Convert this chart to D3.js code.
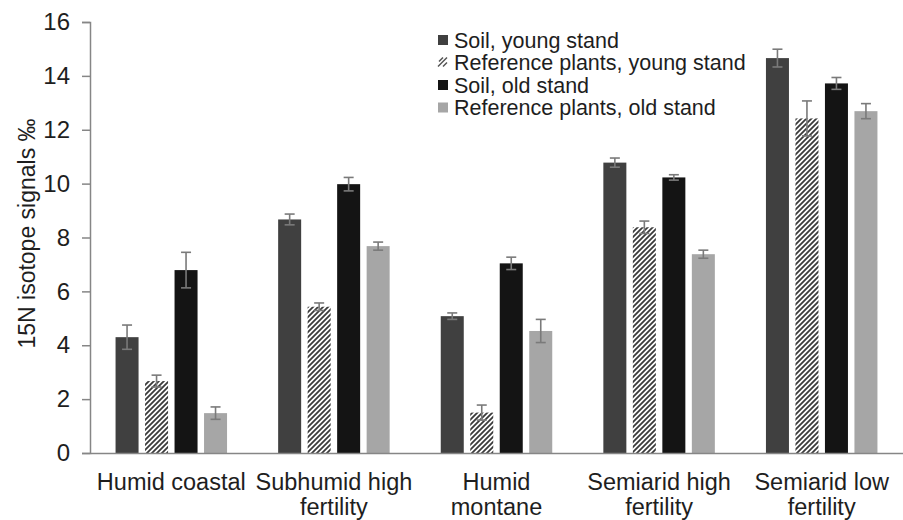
<!DOCTYPE html>
<html>
<head>
<meta charset="utf-8">
<script src="https://cdn.jsdelivr.net/npm/d3@7"></script>
<style>
  html, body { margin: 0; padding: 0; background: #fff; }
  svg { display: block; }
  text { font-family: "Liberation Sans", Arial, sans-serif; fill: #1e1e1e; }
</style>
</head>
<body>
<svg id="chart" width="903" height="520"></svg>
<script>
// ---- data ----
const categories = ["Humid coastal", "Subhumid high fertility", "Humid montane", "Semiarid high fertility", "Semiarid low fertility"];
const categoryLines = [["Humid coastal"], ["Subhumid high", "fertility"], ["Humid", "montane"], ["Semiarid high", "fertility"], ["Semiarid low", "fertility"]];
const seriesNames = ["Soil, young stand", "Reference plants, young stand", "Soil, old stand", "Reference plants, old stand"];
const soilYoung    = [4.30, 8.67, 5.08, 10.78, 14.66];
const soilYoungErr = [0.45, 0.20, 0.12, 0.17, 0.33];
const refYoung     = [2.67, 5.43, 1.50, 8.38, 12.42];
const refYoungErr  = [0.22, 0.14, 0.28, 0.23, 0.65];
const soilOld      = [6.79, 9.98, 7.04, 10.23, 13.72];
const soilOldErr   = [0.66, 0.25, 0.23, 0.10, 0.22];
const refOld       = [1.48, 7.68, 4.53, 7.38, 12.69];
const refOldErr    = [0.23, 0.15, 0.43, 0.15, 0.28];
const yTicks = [0, 2, 4, 6, 8, 10, 12, 14, 16];
const yTitle = "15N isotope signals \u2030";

const seriesValues = [soilYoung, refYoung, soilOld, refOld];
const seriesErrors = [soilYoungErr, refYoungErr, soilOldErr, refOldErr];
const fills = ["#404040", "url(#hatch)", "#141414", "#a6a6a6"];

const svg = d3.select("#chart");

// hatch pattern
const defs = svg.append("defs");
const pat = defs.append("pattern")
  .attr("id", "hatch").attr("patternUnits", "userSpaceOnUse")
  .attr("width", 5).attr("height", 5);
pat.append("rect").attr("width", 5).attr("height", 5).attr("fill", "#ffffff");
pat.append("path").attr("d", "M-1,1 l2,-2 M0,5 l5,-5 M4,6 l2,-2")
  .attr("stroke", "#3a3a3a").attr("stroke-width", 1.8);

const plotLeft = 90, plotRight = 903, plotTop = 22, plotBottom = 453;

const x0 = d3.scaleBand().domain(categories).range([plotLeft, plotRight]).padding(0);
const x1 = d3.scaleBand().domain(seriesNames).range([-55.75, 55.75]).paddingInner(0.22).paddingOuter(0);
const y = d3.scaleLinear().domain([0, 16]).range([plotBottom, plotTop]);

const rows = [];
categories.forEach((c, i) => {
  seriesNames.forEach((s, j) => {
    rows.push({ cat: c, ser: s, si: j, v: seriesValues[j][i], e: seriesErrors[j][i] });
  });
});
const cx = c => x0(c) + x0.bandwidth() / 2;

// bars
svg.append("g").selectAll("rect").data(rows).join("rect")
  .attr("x", d => cx(d.cat) + x1(d.ser))
  .attr("y", d => y(d.v))
  .attr("width", x1.bandwidth())
  .attr("height", d => y(0) - y(d.v))
  .attr("fill", d => fills[d.si]);

// error bars
const eg = svg.append("g").attr("stroke", "#7a7a7a").attr("stroke-width", 1.6).attr("fill", "none");
rows.forEach(d => {
  const xm = cx(d.cat) + x1(d.ser) + x1.bandwidth() / 2;
  const yt = y(d.v + d.e), yb = y(d.v - d.e);
  eg.append("line").attr("x1", xm).attr("x2", xm).attr("y1", yt).attr("y2", yb);
  eg.append("line").attr("x1", xm - 5).attr("x2", xm + 5).attr("y1", yt).attr("y2", yt);
  eg.append("line").attr("x1", xm - 5).attr("x2", xm + 5).attr("y1", yb).attr("y2", yb);
});

// y axis
const yAxis = svg.append("g").attr("transform", `translate(${plotLeft},0)`)
  .call(d3.axisLeft(y).tickValues(yTicks).tickSize(8).tickPadding(12).tickFormat(d3.format("d")));
yAxis.select(".domain").attr("stroke", "#868686").attr("stroke-width", 1.5);
yAxis.selectAll(".tick line").attr("stroke", "#868686").attr("stroke-width", 1.5);
yAxis.selectAll(".tick text").attr("font-size", 24).attr("fill", "#1e1e1e")
  .style("font-family", "'Liberation Sans', Arial, sans-serif");

// x axis
const xAxis = svg.append("g").attr("transform", `translate(0,${plotBottom})`)
  .call(d3.axisBottom(x0).tickSize(0).tickFormat(""));
xAxis.select(".domain").attr("stroke", "#868686").attr("stroke-width", 1.5);

// category labels (one text element per line)
const lg = svg.append("g");
categories.forEach((c, i) => {
  categoryLines[i].forEach((ln, k) => {
    lg.append("text").attr("x", cx(c)).attr("y", 490 + k * 25)
      .attr("text-anchor", "middle").attr("font-size", 23.5).text(ln);
  });
});

// y title
svg.append("text")
  .attr("transform", `translate(35,${(plotTop + plotBottom) / 2 - 4}) rotate(-90)`)
  .attr("text-anchor", "middle").attr("font-size", 23).text(yTitle);

// legend
const leg = svg.append("g").attr("transform", "translate(438,40)");
seriesNames.forEach((s, j) => {
  const g = leg.append("g").attr("transform", `translate(0,${j * 22.5})`);
  if (j === 1) {
    g.append("path").attr("d", "M1,4 l4,-4 M0,9 l9,-9 M5,9 l4,-4")
      .attr("transform", "translate(0,-5)")
      .attr("stroke", "#555").attr("stroke-width", 1.5);
  } else {
    g.append("rect").attr("x", 0).attr("y", -5).attr("width", 10).attr("height", 10).attr("fill", fills[j]);
  }
  g.append("text").attr("x", 16).attr("y", 0).attr("dy", "0.35em").attr("font-size", 21.5).text(s);
});
</script>
</body>
</html>
